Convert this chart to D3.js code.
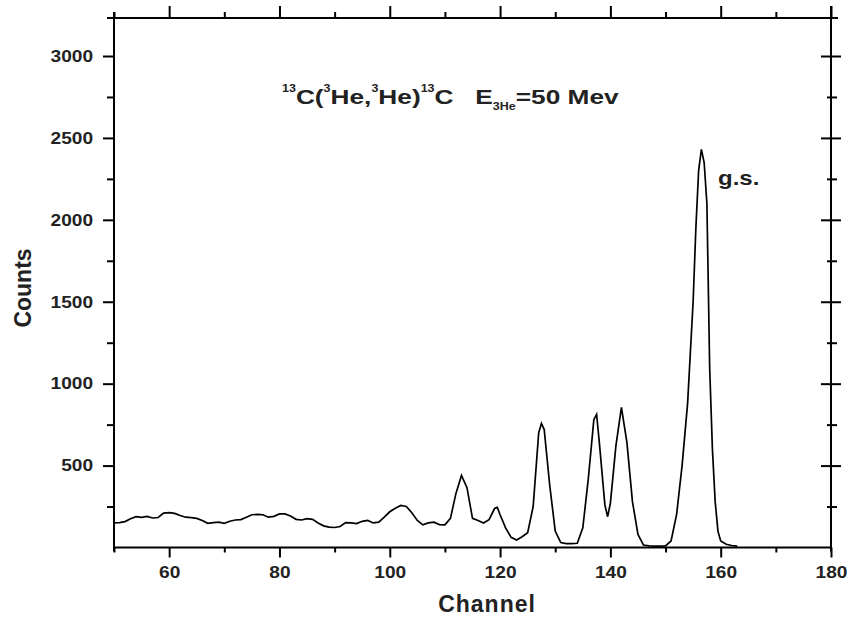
<!DOCTYPE html>
<html><head><meta charset="utf-8">
<script src="https://cdn.jsdelivr.net/npm/d3@7"></script>
<style>body{margin:0;background:#fff}svg{display:block}text{font-family:Arial,"Liberation Sans",sans-serif}</style>
</head><body><svg id="c" width="849" height="617"></svg>
<script>
const channels = [50,51,52,53,54,55,56,57,58,59,60,61,62,63,64,65,66,67,68,69,70,71,72,73,74,75,76,77,78,79,80,81,82,83,84,85,86,87,88,89,90,91,92,93,94,95,96,97,98,99,100,101,102,103,104,105,106,107,108,109,110,111,112,113,114,115,116,117,118,119,119.5,120,121,122,123,124,125,126,127,127.5,128,129,130,131,132,133,134,135,136,137,137.5,138,139,139.5,140,141,142,143,144,145,146,147,148,149,150,151,152,153,154,155,155.5,156,156.5,157,157.5,158,158.5,159,159.5,160,161,162,163];
const counts = [150,152,158,175,188,184,190,180,183,210,213,208,195,185,182,178,165,148,152,155,148,160,168,170,185,200,202,200,185,190,205,205,192,172,168,176,172,150,132,124,122,128,152,150,146,160,165,150,155,185,218,240,257,250,212,165,138,150,155,140,138,178,330,440,365,178,165,150,170,238,245,200,120,62,46,66,90,250,700,757,720,380,100,30,24,24,26,120,420,780,812,640,260,188,270,620,855,640,280,80,15,10,8,8,10,40,200,500,880,1500,1950,2300,2430,2350,2100,1100,600,280,100,40,20,12,8];
const xTicks = [60,80,100,120,140,160,180];
const xMinor = [50,70,90,110,130,150,170];
const yTicks = [500,1000,1500,2000,2500,3000];
const yMinor = [250,750,1250,1750,2250,2750];

const svg = d3.select('#c');
const L=114,R=831,T=18,B=547.5;
const x = d3.scaleLinear().domain([50,180]).range([L,R]);
const y = d3.scaleLinear().domain([0,3000]).range([B,56]);
const yTop = y.invert(T);
y.domain([0,yTop]).range([B,T]);

const SX = 1.16;

// bottom axis
const gb = svg.append('g').attr('transform',`translate(0,${B})`);
gb.call(d3.axisBottom(x).tickValues(xTicks).tickSize(10).tickPadding(9).tickFormat(d3.format('d')));
gb.append('g').call(d3.axisBottom(x).tickValues(xMinor).tickSize(5).tickFormat(''));
// top axis
const gt = svg.append('g').attr('transform',`translate(0,${T})`);
gt.call(d3.axisTop(x).tickValues(xTicks).tickSize(12).tickFormat(''));
gt.append('g').call(d3.axisTop(x).tickValues(xMinor).tickSize(6).tickFormat(''));
// left axis
const gl = svg.append('g').attr('transform',`translate(${L},0)`);
gl.call(d3.axisLeft(y).tickValues(yTicks).tickSize(11).tickPadding(7).tickFormat(d3.format('d')));
gl.append('g').call(d3.axisLeft(y).tickValues(yMinor).tickSize(7).tickFormat(''));
// right axis (crossing ticks)
const gr = svg.append('g').attr('transform',`translate(${R},0)`);
gr.call(d3.axisRight(y).tickValues(yTicks).tickSize(10).tickFormat(''));
gr.append('g').call(d3.axisRight(y).tickValues(yMinor).tickSize(6).tickFormat(''));
gr.selectAll('.tick line').clone().attr('x2', function(){return +d3.select(this).attr('x2')===10?-10:-4;});

svg.selectAll('.domain').remove();
svg.selectAll('.tick line').attr('stroke','#000').attr('stroke-width',2);
svg.selectAll('.tick text').attr('font-size','16.5px').attr('font-weight','bold').attr('fill','#222')
  .attr('font-family','Arial, "Liberation Sans", sans-serif').attr('transform',`scale(${SX},1)`);

// frame lines
const fr = svg.append('g').attr('stroke','#000').attr('stroke-width',2);
fr.append('line').attr('x1',L).attr('x2',R).attr('y1',B).attr('y2',B);
fr.append('line').attr('x1',L-7).attr('x2',R+7).attr('y1',T).attr('y2',T);
fr.append('line').attr('x1',L).attr('x2',L).attr('y1',T-6).attr('y2',B+4);
fr.append('line').attr('x1',R).attr('x2',R).attr('y1',T-12).attr('y2',B+4);

// curve
svg.append('path').datum(channels.map((c,i)=>[c,counts[i]]))
  .attr('fill','none').attr('stroke','#000').attr('stroke-width',1.7)
  .attr('d', d3.line().x(d=>x(d[0])).y(d=>y(d[1])));

// labels
svg.append('text').attr('x',487).attr('y',612).attr('text-anchor','middle')
  .attr('font-size','23px').attr('font-weight','bold').attr('fill','#222').attr('letter-spacing','1px').text('Channel');
svg.append('text').attr('transform','translate(31,288) rotate(-90)').attr('text-anchor','middle')
  .attr('font-size','23px').attr('font-weight','bold').attr('fill','#222').text('Counts');
svg.append('text').attr('transform','translate(718,185) scale(1.2,1)').attr('font-size','20px').attr('font-weight','bold').attr('fill','#222').text('g.s.');

const title = svg.append('text').attr('transform','translate(282,104) scale(1.25,1)')
  .attr('font-size','21px').attr('font-weight','bold').attr('fill','#222');
const sup = (t)=>title.append('tspan').attr('font-size','10px').attr('dy',-12).text(t);
const norm = (t)=>title.append('tspan').attr('dy',12).text(t);
sup('13'); norm('C(');
sup('3'); norm('He,');
sup('3'); norm('He)');
sup('13'); norm('C');
title.append('tspan').text('\u00a0\u00a0\u00a0E');
title.append('tspan').attr('font-size','10px').attr('dy',6).text('3He');
title.append('tspan').attr('dy',-6).text('=50 Mev');
</script></body></html>
